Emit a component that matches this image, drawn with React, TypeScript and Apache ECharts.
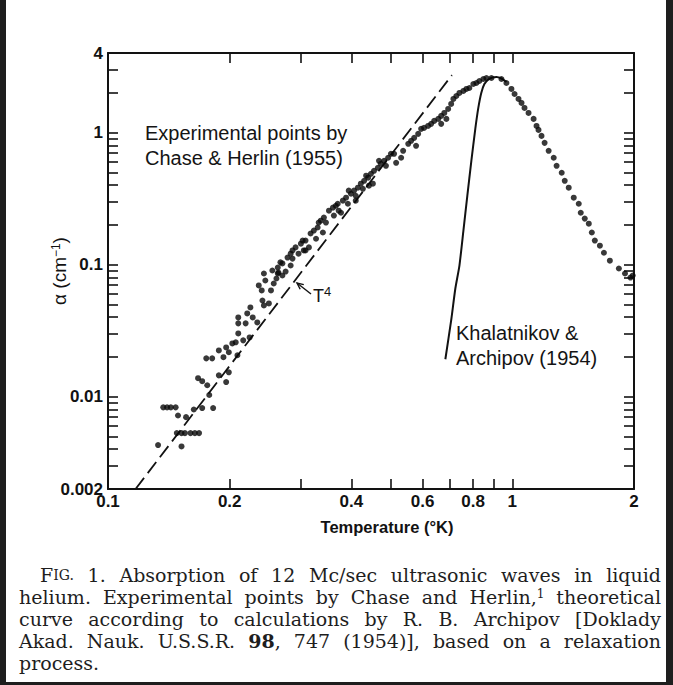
import React, { useEffect, useRef } from 'react';
import * as echarts from 'echarts';

// ---- axis ticks and labels (data units) ----
const xTickValues = [0.2, 0.3, 0.4, 0.5, 0.6, 0.7, 0.8, 0.9, 1];
const xLabelValues = [0.1, 0.2, 0.4, 0.6, 0.8, 1, 2];
const yTickValues = [
  0.003, 0.004, 0.005, 0.006, 0.007, 0.008, 0.009, 0.01,
  0.02, 0.03, 0.04, 0.05, 0.06, 0.07, 0.08, 0.09, 0.1,
  0.2, 0.3, 0.4, 0.5, 0.6, 0.7, 0.8, 0.9, 1, 2, 3,
];
const yLabelValues = [0.002, 0.01, 0.1, 1, 4];
const xRange = [0.1, 2];
const yRange = [0.002, 4];

// ---- experimental points, Chase & Herlin (1955): temperature (K), alpha (cm^-1) ----
const expTemperature = [
  0.133, 0.137, 0.140, 0.143, 0.147, 0.149, 0.156, 0.148, 0.152, 0.155, 0.160, 0.164, 0.168, 0.152,
  0.163, 0.171, 0.167, 0.171, 0.176, 0.178, 0.182, 0.188, 0.196, 0.199, 0.175, 0.181, 0.188, 0.193,
  0.196, 0.203, 0.199, 0.207, 0.209, 0.210, 0.216, 0.210, 0.210, 0.219, 0.221, 0.224, 0.228, 0.225,
  0.234, 0.236, 0.240, 0.241, 0.243, 0.250, 0.245, 0.253, 0.257, 0.261, 0.264, 0.270, 0.275,
  0.243, 0.255, 0.263, 0.270, 0.263, 0.278, 0.283, 0.291, 0.300, 0.296, 0.308, 0.317, 0.323, 0.314,
  0.330, 0.336, 0.342, 0.352, 0.346, 0.360, 0.370, 0.372, 0.381, 0.388, 0.392, 0.399, 0.406, 0.415,
  0.422, 0.430, 0.427, 0.440, 0.447, 0.455, 0.465, 0.473, 0.482, 0.493, 0.501,
  0.286, 0.305, 0.327, 0.362, 0.410, 0.442, 0.487,
  0.267, 0.286, 0.303, 0.332, 0.366, 0.394, 0.435, 0.468,
  0.283, 0.308, 0.340, 0.377, 0.410, 0.452,
  0.510, 0.516, 0.531, 0.537, 0.553, 0.562, 0.572, 0.578, 0.585, 0.595, 0.605, 0.619, 0.630, 0.641,
  0.656, 0.667, 0.667, 0.679, 0.687, 0.694, 0.706, 0.715, 0.727, 0.740, 0.757, 0.770, 0.783, 0.801,
  0.815, 0.829, 0.848, 0.863, 0.888, 0.940,
  0.967, 0.995, 1.013, 1.036, 1.054, 1.072, 1.097, 1.129, 1.148, 1.161, 1.181, 1.202, 1.230, 1.266,
  1.287, 1.325, 1.348, 1.379, 1.419, 1.460, 1.477, 1.511, 1.546, 1.573, 1.600, 1.647, 1.685, 1.743,
  1.835, 1.900, 1.960, 1.985,
];
const expAlpha = [
  0.0043, 0.0083, 0.0083, 0.0083, 0.0083, 0.0072, 0.0070, 0.0053, 0.0053, 0.0053, 0.0053, 0.0053, 0.0053, 0.0042,
  0.0080, 0.0082, 0.0138, 0.0131, 0.0122, 0.0103, 0.0082, 0.0145, 0.0129, 0.0153, 0.0195, 0.0195, 0.0224, 0.0199,
  0.0236, 0.0253, 0.0217, 0.0258, 0.0206, 0.0301, 0.0267, 0.0359, 0.0398, 0.0359, 0.0427, 0.0281, 0.0398, 0.0474,
  0.0365, 0.0695, 0.0637, 0.0535, 0.0491, 0.0508, 0.0758, 0.0637, 0.0719, 0.0785, 0.0871, 0.0827, 0.0886,
  0.0856, 0.0902, 0.0950, 0.102, 0.0856, 0.113, 0.121, 0.135, 0.144, 0.121, 0.152, 0.172, 0.181, 0.135,
  0.191, 0.215, 0.227, 0.256, 0.208, 0.270, 0.289, 0.256, 0.305, 0.321, 0.289, 0.344, 0.363, 0.382,
  0.410, 0.431, 0.375, 0.455, 0.487, 0.513, 0.541, 0.580, 0.611, 0.644, 0.690,
  0.111, 0.128, 0.157, 0.235, 0.332, 0.396, 0.560,
  0.104, 0.128, 0.152, 0.208, 0.279, 0.363, 0.471, 0.611,
  0.0984, 0.128, 0.175, 0.247, 0.305, 0.410,
  0.690, 0.590, 0.644, 0.727, 0.821, 0.865, 0.911, 0.793, 0.977, 1.066, 1.084, 1.122, 1.163, 1.225,
  1.268, 1.336, 1.163, 1.407, 1.268, 1.509, 1.646, 1.796, 1.891, 1.993, 2.064, 2.137, 2.174, 2.331,
  2.371, 2.455, 2.542, 2.588, 2.588, 2.542,
  2.371, 2.137, 1.958, 1.796, 1.675, 1.535, 1.407, 1.268, 1.122, 1.047, 0.943, 0.835, 0.727, 0.644,
  0.560, 0.496, 0.431, 0.382, 0.321, 0.289, 0.247, 0.223, 0.204, 0.175, 0.152, 0.139, 0.123, 0.107,
  0.0934, 0.0856, 0.0798, 0.0827,
];

// ---- T^4 law (dashed) ----
const t4Temperature = [0.117, 0.709];
const t4Alpha = [0.002, 2.72];

// ---- theoretical curve, Khalatnikov & Archipov (1954) ----
const theoryTemperature = [0.683, 0.706, 0.723, 0.740, 0.757, 0.774, 0.792, 0.810, 0.824, 0.838, 0.853, 0.873, 0.893, 0.914, 0.940, 0.967];
const theoryAlpha = [0.0192, 0.0378, 0.0659, 0.0984, 0.181, 0.332, 0.611, 1.066, 1.535, 1.993, 2.331, 2.520, 2.610, 2.633, 2.564, 2.413];

const captionLines = [
  '{f|F}{s|IG.} 1. Absorption of 12 Mc/sec ultrasonic waves in liquid',
  'helium. Experimental points by Chase and Herlin,{u|1} theoretical',
  'curve according to calculations by R. B. Archipov [Doklady',
  'Akad. Nauk. U.S.S.R. {b|98}, 747 (1954)], based on a relaxation',
  'process.',
];

const L = (v: number) => Math.log10(v);
const fmtFrom = (values: number[]) => (v: number) => {
  const hit = values.find((t) => Math.abs(L(t) - v) < 1e-6);
  return hit === undefined ? '' : String(hit);
};

const INK = '#121212';
const CAP_SIZE = 19;
const capFonts: Record<string, string> = {
  '': `${CAP_SIZE}px "DejaVu Serif"`,
  f: `${CAP_SIZE}px "DejaVu Serif"`,
  s: `14px "DejaVu Serif"`,
  u: `12px "DejaVu Serif"`,
  b: `bold ${CAP_SIZE}px "DejaVu Serif"`,
};

function measureWord(ctx: CanvasRenderingContext2D | null, word: string): number {
  const re = /\{(\w)\|([^}]*)\}|([^{]+)/g;
  let m: RegExpExecArray | null;
  let w = 0;
  while ((m = re.exec(word))) {
    const font = m[1] ? capFonts[m[1]] : capFonts[''];
    const txt = m[1] ? m[2] : m[3];
    if (ctx) {
      ctx.font = font;
      w += ctx.measureText(txt).width;
    } else {
      w += txt.length * CAP_SIZE * 0.55;
    }
  }
  return w;
}

function buildCaption(): any[] {
  const canvas = document.createElement('canvas');
  const ctx = canvas.getContext('2d');
  const startX = [40, 19, 19, 19, 19];
  const lineY = [575, 597, 619, 641, 663];
  const rightEdge = 661;
  const rich = {
    f: { font: capFonts.f, fill: '#1e1e1e' },
    s: { font: capFonts.s, fill: '#1e1e1e' },
    u: { font: capFonts.u, fill: '#1e1e1e', verticalAlign: 'top' },
    b: { font: capFonts.b, fill: '#1e1e1e' },
  };
  const out: any[] = [];
  captionLines.forEach((line, i) => {
    const words = line.split(' ');
    const widths = words.map((w) => measureWord(ctx, w));
    const total = widths.reduce((a, b) => a + b, 0);
    const last = i === captionLines.length - 1;
    const gap = last ? measureWord(ctx, ' ') : (rightEdge - startX[i] - total) / (words.length - 1);
    let x = startX[i];
    words.forEach((w, k) => {
      out.push({
        type: 'text', silent: true, x, y: lineY[i],
        style: { text: w, font: capFonts[''], fill: '#1e1e1e', verticalAlign: 'middle', rich },
      });
      x += widths[k] + gap;
    });
  });
  return out;
}

export default function App() {
  const ref = useRef<HTMLDivElement>(null);

  useEffect(() => {
    if (!ref.current) return;
    const chart = echarts.init(ref.current, undefined, { renderer: 'svg' });

    const labelFont = { color: INK, fontFamily: 'Liberation Sans', fontWeight: 'bold' as const, fontSize: 17 };
    const axisLine = { show: true, onZero: false, lineStyle: { color: INK, width: 2 } };
    const xTick = { show: true, inside: true, length: 10, customValues: xTickValues.map(L), lineStyle: { color: INK, width: 1.6 } };
    const yTick = { show: true, inside: true, length: 10, customValues: yTickValues.map(L), lineStyle: { color: INK, width: 1.6 } };

    const option: any = {
      animation: false,
      backgroundColor: '#ffffff',
      grid: { left: 108, right: 39, top: 53, bottom: 196, containLabel: false, outerBoundsMode: 'none' },
      xAxis: [
        {
          type: 'value', min: L(xRange[0]), max: L(xRange[1]), position: 'bottom',
          axisLine, axisTick: xTick, splitLine: { show: false },
          axisLabel: { ...labelFont, customValues: xLabelValues.map(L), formatter: fmtFrom(xLabelValues), margin: 4 },
          name: 'Temperature (°K)', nameLocation: 'middle', nameGap: 29, nameMoveOverlap: false,
          nameTextStyle: { color: INK, fontFamily: 'Liberation Sans', fontWeight: 'bold', fontSize: 16.5, padding: [0, 0, 0, 32] },
        },
        {
          type: 'value', min: L(xRange[0]), max: L(xRange[1]), position: 'top',
          axisLine, axisTick: xTick, splitLine: { show: false }, axisLabel: { show: false },
        },
      ],
      yAxis: [
        {
          type: 'value', min: L(yRange[0]), max: L(yRange[1]), position: 'left',
          axisLine, axisTick: yTick, splitLine: { show: false },
          axisLabel: { ...labelFont, customValues: yLabelValues.map(L), formatter: fmtFrom(yLabelValues), margin: 5 },
          name: 'α (cm{s|−1})', nameLocation: 'middle', nameGap: 39, nameRotate: 90, nameMoveOverlap: false,
          nameTextStyle: {
            color: INK, fontFamily: 'Liberation Sans', fontSize: 19,
            rich: { s: { fontFamily: 'Liberation Sans', fontSize: 12, color: INK, verticalAlign: 'top' } },
          },
        },
        {
          type: 'value', min: L(yRange[0]), max: L(yRange[1]), position: 'right',
          axisLine, axisTick: yTick, splitLine: { show: false }, axisLabel: { show: false },
        },
      ],
      series: [
        {
          name: 'T^4', type: 'line', symbol: 'none', silent: true, z: 2,
          data: t4Temperature.map((t, i) => [L(t), L(t4Alpha[i])]),
          lineStyle: { color: INK, width: 1.8, type: [14, 6] },
        },
        {
          name: 'Khalatnikov & Archipov (1954)', type: 'line', symbol: 'none', silent: true, z: 3, smooth: 0.2,
          data: theoryTemperature.map((t, i) => [L(t), L(theoryAlpha[i])]),
          lineStyle: { color: INK, width: 2 },
        },
        {
          name: 'Chase & Herlin (1955)', type: 'scatter', symbol: 'circle', symbolSize: 6, z: 4,
          data: expTemperature.map((t, i) => [L(t), L(expAlpha[i])]),
          itemStyle: { color: '#080808' },
        },
      ],
      graphic: [
        { type: 'rect', silent: true, shape: { x: 0, y: 0, width: 6, height: 685 }, style: { fill: '#1e1e1e' } },
        { type: 'rect', silent: true, shape: { x: 666, y: 0, width: 7, height: 685 }, style: { fill: '#1e1e1e' } },
        { type: 'rect', silent: true, shape: { x: 0, y: 682, width: 673, height: 3 }, style: { fill: '#1e1e1e' } },
        {
          type: 'text', silent: true, x: 145, y: 120,
          style: { text: 'Experimental points by\nChase & Herlin (1955)', font: '20px "Liberation Sans"', fill: '#141414', lineHeight: 25, verticalAlign: 'top' },
        },
        {
          type: 'text', silent: true, x: 456, y: 320,
          style: { text: 'Khalatnikov &\nArchipov (1954)', font: '20px "Liberation Sans"', fill: '#141414', lineHeight: 25, verticalAlign: 'top' },
        },
        {
          type: 'text', silent: true, x: 313, y: 285,
          style: {
            text: '{t|T}{p|4}', verticalAlign: 'top',
            rich: {
              t: { font: '18px "Liberation Sans"', fill: '#141414', lineHeight: 21 },
              p: { font: '13px "Liberation Sans"', fill: '#141414', verticalAlign: 'top' },
            },
          },
        },
        { type: 'line', silent: true, shape: { x1: 311, y1: 294, x2: 297, y2: 283 }, style: { stroke: INK, lineWidth: 1.4 } },
        { type: 'polyline', silent: true, shape: { points: [[300.2, 289.2], [297, 283], [303.8, 284.6]] }, style: { stroke: INK, lineWidth: 1.4, fill: 'none' } },
        ...buildCaption(),
      ],
    };

    chart.setOption(option);
    return () => chart.dispose();
  }, []);

  return (
    <div
      ref={ref}
      style={{ position: 'fixed', left: 0, top: 0, width: 673, height: 685, background: '#fff' }}
    />
  );
}
